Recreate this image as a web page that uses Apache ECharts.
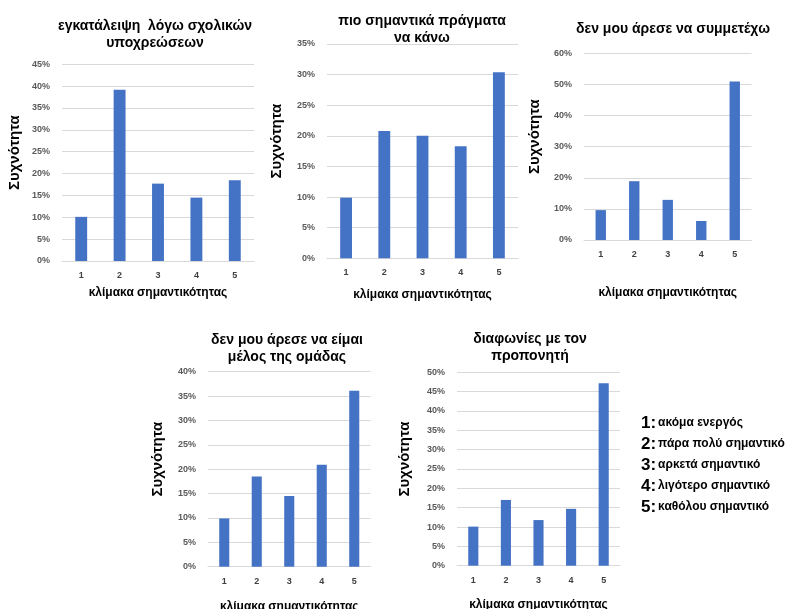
<!DOCTYPE html>
<html>
<head>
<meta charset="utf-8">
<script src="https://cdn.jsdelivr.net/npm/echarts@6/dist/echarts.min.js"></script>
<style>
  html, body { margin: 0; padding: 0; background: #ffffff; }
  #main { width: 791px; height: 609px; }
</style>
</head>
<body>
<div id="main"></div>
<script>
// Importance scale shared by all five panels
const categories = ['1', '2', '3', '4', '5'];

// Panel titles
const titles = [
  'εγκατάλειψη  λόγω σχολικών\nυποχρεώσεων',
  'πιο σημαντικά πράγματα\nνα κάνω',
  'δεν μου άρεσε να συμμετέχω',
  'δεν μου άρεσε να είμαι\nμέλος της ομάδας',
  'διαφωνίες με τον\nπροπονητή'
];

// Frequencies (%) per importance level
const schoolDuties = [10.1, 39.2, 17.7, 14.5, 18.5];
const moreImportantThings = [9.9, 20.8, 20.0, 18.3, 30.4];
const didNotLikeTakingPart = [9.6, 18.9, 12.9, 6.1, 50.9];
const didNotLikeTeam = [9.9, 18.5, 14.5, 20.9, 36.1];
const coachDisagreements = [10.1, 17.0, 11.8, 14.7, 47.2];

// Value-axis ranges
const axisMax = [45, 35, 60, 40, 50];
const axisStep = [5, 5, 10, 5, 5];

// Legend entries for the scale
const legendNums = ['1:', '2:', '3:', '4:', '5:'];
const legendTexts = ['ακόμα ενεργός', 'πάρα πολύ σημαντικό', 'αρκετά σημαντικό', 'λιγότερο σημαντικό', 'καθόλου σημαντικό'];

const yName = 'Συχνότητα';
const xName = 'κλίμακα σημαντικότητας';

const seriesData = [schoolDuties, moreImportantThings, didNotLikeTakingPart, didNotLikeTeam, coachDisagreements];

const FONT = '"Liberation Sans", Arial, sans-serif';
const BAR = '#4472C4';

// Panel boxes (plot areas)
const boxes = [
  { left: 62,  top: 64.3,  width: 192,   height: 196.7, titleX: 150, titleY: 13,  yNameX: 15,  xNameY: 293 },
  { left: 327, top: 44,    width: 191,   height: 214.3, titleX: 417, titleY: 8,   yNameX: 277, xNameY: 295 },
  { left: 584, top: 53.3,  width: 167.5, height: 186.7, titleX: 668, titleY: 16,  yNameX: 535, xNameY: 293 },
  { left: 208, top: 371.7, width: 162.5, height: 195,   titleX: 282, titleY: 327, yNameX: 158, xNameY: 607 },
  { left: 457, top: 372.3, width: 163,   height: 193.4, titleX: 525, titleY: 326, yNameX: 405, xNameY: 605 }
];

const grid = [], xAxis = [], yAxis = [], series = [], title = [], graphic = [];

boxes.forEach((b, i) => {
  grid.push({ left: b.left, top: b.top, width: b.width, height: b.height, containLabel: false });
  xAxis.push({
    type: 'category', gridIndex: i, data: categories,
    axisLine: { lineStyle: { color: '#d9d9d9' } },
    axisTick: { show: false },
    axisLabel: { color: '#404040', fontSize: 9, fontWeight: 'bold', fontFamily: FONT, margin: 10 }
  });
  yAxis.push({
    type: 'value', gridIndex: i, min: 0, max: axisMax[i], interval: axisStep[i],
    axisLine: { show: false }, axisTick: { show: false },
    splitLine: { lineStyle: { color: '#d9d9d9', width: 1 } },
    axisLabel: { color: '#595959', fontSize: 9, fontWeight: 'bold', fontFamily: FONT, margin: 12, formatter: '{value}%' }
  });
  series.push({
    type: 'bar', xAxisIndex: i, yAxisIndex: i, data: seriesData[i],
    barWidth: '31%', itemStyle: { color: BAR }, silent: true
  });
  title.push({
    text: titles[i], left: b.titleX, top: b.titleY, textAlign: 'center',
    textStyle: { fontSize: 14, fontWeight: 'bold', color: '#000', fontFamily: FONT, lineHeight: 17 }
  });
  graphic.push({
    type: 'text', x: b.yNameX, y: b.top + b.height / 2 - 10, rotation: Math.PI / 2,
    style: { text: yName, fill: '#000', font: 'bold 15px ' + FONT,
             textAlign: 'center', textVerticalAlign: 'middle' }
  });
  graphic.push({
    type: 'text', x: b.left + b.width / 2, y: b.xNameY,
    style: { text: xName, fill: '#000', font: 'bold 12px ' + FONT,
             textAlign: 'center', textVerticalAlign: 'middle' }
  });
});

legendNums.forEach((n, k) => {
  graphic.push({
    type: 'text', x: 641, y: 423 + k * 21,
    style: {
      text: '{n|' + n + '}{t|' + legendTexts[k] + '}',
      textVerticalAlign: 'middle',
      rich: {
        n: { fontSize: 17, fontWeight: 'bold', fill: '#000', fontFamily: FONT, padding: [0, 2, 0, 0] },
        t: { fontSize: 12, fontWeight: 'bold', fill: '#000', fontFamily: FONT }
      }
    }
  });
});

const chart = echarts.init(document.getElementById('main'), null, { renderer: 'canvas' });
chart.setOption({
  animation: false,
  backgroundColor: '#ffffff',
  title, grid, xAxis, yAxis, series, graphic
});
</script>
</body>
</html>
